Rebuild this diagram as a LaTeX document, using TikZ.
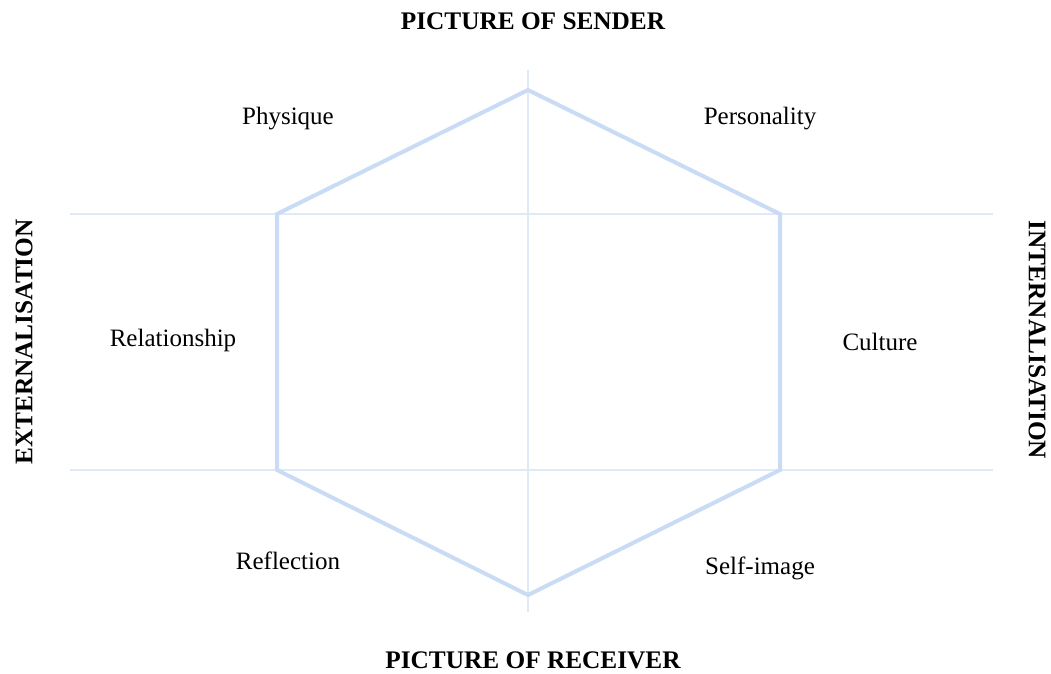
\documentclass[tikz,border=0pt]{standalone}
\usepackage{fontspec}
\setmainfont{Liberation Serif}
\definecolor{guideblue}{RGB}{224,233,248}
\definecolor{hexblue}{RGB}{201,219,245}
\begin{document}
\begin{tikzpicture}[x=1pt,y=-1pt,
  gridline/.style={draw=guideblue, line width=2pt},
  hexline/.style={draw=hexblue, line width=4pt, line join=miter},
  lbl/.style={font=\fontsize{25}{30}\selectfont, inner sep=0pt},
  axis/.style={font=\fontsize{25.3}{30}\selectfont\bfseries, inner sep=0pt}]
  \useasboundingbox (0,0) rectangle (1051,673);
  % guide lines
  \coordinate (hl1) at (70,214);  \coordinate (hr1) at (993,214);
  \coordinate (hl2) at (70,470);  \coordinate (hr2) at (993,470);
  \coordinate (vt) at (528,70);   \coordinate (vb) at (528,612);
  \draw[gridline] (hl1) -- (hr1);
  \draw[gridline] (hl2) -- (hr2);
  \draw[gridline] (vt) -- (vb);
  % hexagon
  \coordinate (top) at (528,90);
  \coordinate (ur) at (780,214);
  \coordinate (lr) at (780,470);
  \coordinate (bot) at (528,595);
  \coordinate (ll) at (277,470);
  \coordinate (ul) at (277,214);
  \draw[hexline] (top) -- (ur) -- (lr) -- (bot) -- (ll) -- (ul) -- cycle;
  % facet labels
  \node[lbl] (physique) at (288,119) {Physique};
  \node[lbl] (personality) at (760,119) {Personality};
  \node[lbl] (relationship) at (173,340) {Relationship};
  \node[lbl] (culture) at (880,342) {Culture};
  \node[lbl] (reflection) at (288,561) {Reflection};
  \node[lbl] (selfimage) at (760,568) {Self-image};
  % axes
  \node[axis] (sender) at (533,21) {PICTURE OF SENDER};
  \node[axis] (receiver) at (533,660) {PICTURE OF RECEIVER};
  \node[axis, rotate=90] (ext) at (24,342) {EXTERNALISATION};
  \node[axis, rotate=-90] (int) at (1037,340) {INTERNALISATION};
\end{tikzpicture}
\end{document}
